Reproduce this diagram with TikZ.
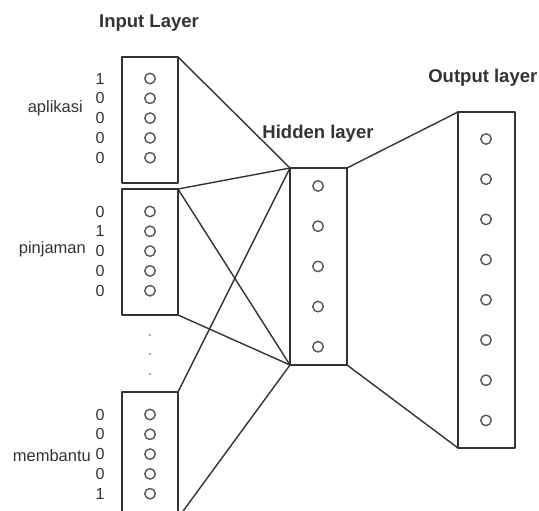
\documentclass[tikz,border=0pt]{standalone}
\usepackage{fontspec}
\setmainfont{Liberation Sans}
\definecolor{ink}{HTML}{333333}
\definecolor{ring}{HTML}{555555}
\begin{document}
\begin{tikzpicture}[x=1pt, y=-1pt, line join=round, line cap=round, color=ink,
    layer/.style={draw=ink, line width=1.6pt, rectangle, inner sep=0pt, outer sep=0pt},
    neuron/.style={draw=ring, line width=1.4pt, circle, inner sep=0pt, minimum size=10.5pt},
    link/.style={draw=ink, line width=1.4pt},
    bit/.style={font=\fontsize{16}{16}\selectfont, inner sep=0pt},
    word/.style={font=\fontsize{16.5}{16.5}\selectfont, inner sep=0pt, anchor=base east},
    title/.style={font=\bfseries\fontsize{18.5}{18.5}\selectfont, inner sep=0pt}]
    \useasboundingbox (0,0) rectangle (539,511);
    % input layer
    \node[layer, minimum width=56pt, minimum height=126pt] (in1) at (150,120) {};
    \node[layer, minimum width=56pt, minimum height=126pt] (in2) at (150,252) {};
    \node[layer, minimum width=56pt, minimum height=126pt] (in3) at (150,455) {};
    \foreach \blk/\top/\bits in {1/56/{1,0,0,0,0}, 2/189/{0,1,0,0,0}, 3/392/{0,0,0,0,1}} {
        \foreach \b [count=\i] in \bits {
            \node[neuron] (n\blk-\i) at (150, \top+22.5+19.8*\i-19.8) {};
            \node[bit] (b\blk-\i) at (100, \top+22.5+19.8*\i-19.8) {\b};
        }
    }
    \node[word] (w1) at (83,113) {aplikasi};
    \node[word] (w2) at (86,253) {pinjaman};
    \node[word] (w3) at (91,461) {membantu};
    \foreach \y in {335,354,374}
        \fill[ring] (150,\y) circle (0.9);
    % hidden layer
    \node[layer, minimum width=57pt, minimum height=197pt] (hid) at (318.5,266.5) {};
    \foreach \i in {1,...,5}
        \node[neuron] (h\i) at (318, 186+40.2*\i-40.2) {};
    % output layer
    \node[layer, minimum width=57pt, minimum height=336pt] (out) at (486.5,280) {};
    \foreach \i in {1,...,8}
        \node[neuron] (o\i) at (486, 139+40.2*\i-40.2) {};
    % titles
    \node[title] (tin) at (149,23) {Input Layer};
    \node[title] (thid) at (318,134) {Hidden layer};
    \node[title, anchor=east] (tout) at (537.5,78) {Output layer};
    % connectors
    \draw[link] (in1.north east) -- (hid.north west);
    \draw[link] (in2.north east) -- (hid.north west);
    \draw[link] (in2.north east) -- (hid.south west);
    \draw[link] (in2.south east) -- (hid.south west);
    \draw[link] (in3.north east) -- (hid.north west);
    \draw[link] (in3.south east) -- (hid.south west);
    \draw[link] (hid.north east) -- (out.north west);
    \draw[link] (hid.south east) -- (out.south west);
\end{tikzpicture}
\end{document}
